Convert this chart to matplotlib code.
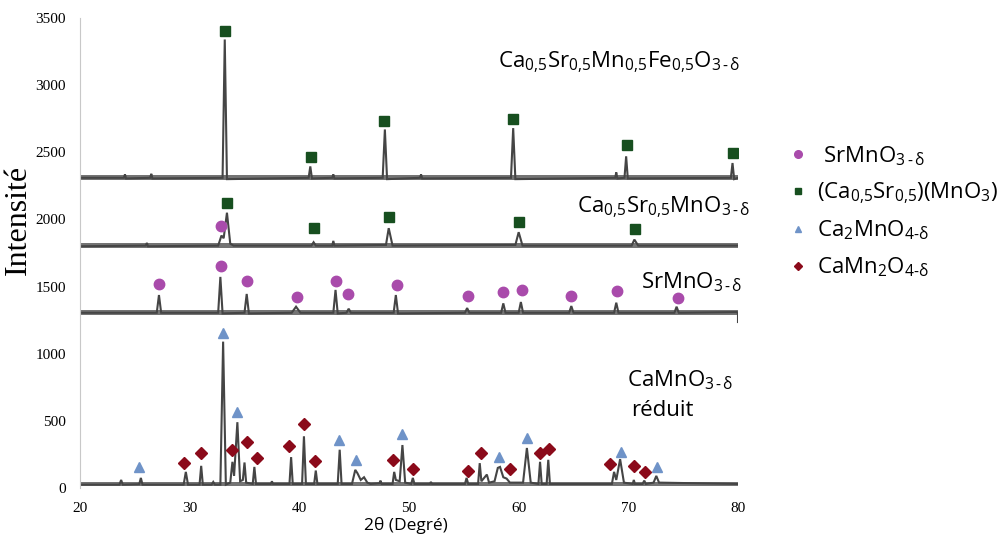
import matplotlib
matplotlib.use('Agg')
import matplotlib.pyplot as plt
from matplotlib.lines import Line2D

plt.rcParams['font.family'] = 'Liberation Serif'
plt.rcParams['mathtext.fontset'] = 'custom'
plt.rcParams['mathtext.rm'] = 'Open Sans'
plt.rcParams['mathtext.it'] = 'Open Sans:italic'
plt.rcParams['mathtext.bf'] = 'Open Sans:bold'

# Diffractogrammes (sommets)
fe_x = [20, 24.0, 24.1, 24.2, 26.4, 26.5, 26.6, 33.0, 33.2, 33.4, 40.85, 41.0, 41.15,
        43.0, 43.1, 43.2, 47.6, 47.8, 48.0, 51.0, 51.1, 51.2, 59.3, 59.5, 59.7,
        68.8, 68.9, 69.0, 69.65, 69.8, 69.95, 79.35, 79.5, 79.65, 80]
fe_y = [2310, 2310, 2335, 2305, 2310, 2340, 2305, 2310, 3340, 2300, 2310, 2395, 2305,
        2310, 2335, 2305, 2310, 2670, 2300, 2310, 2335, 2305, 2310, 2680, 2300,
        2310, 2350, 2305, 2310, 2470, 2305, 2310, 2420, 2300, 2310]

casr_x = [20, 26.0, 26.1, 26.2, 32.6, 32.9, 33.1, 33.4, 33.7, 34.0, 41.1, 41.3, 41.5,
          43.0, 43.1, 43.2, 47.9, 48.15, 48.5, 59.7, 60.0, 60.35, 70.3, 70.55, 70.9, 80]
casr_y = [1800, 1805, 1825, 1800, 1805, 1880, 1860, 2050, 1820, 1805, 1805, 1830, 1805,
          1805, 1840, 1805, 1810, 1935, 1805, 1810, 1905, 1805, 1805, 1850, 1805, 1805]

sr_x = [20, 27.0, 27.2, 27.4, 32.6, 32.8, 33.0, 35.0, 35.2, 35.4, 39.3, 39.7, 40.1,
        43.1, 43.3, 43.5, 44.3, 44.5, 44.7, 48.6, 48.8, 49.0, 55.1, 55.3, 55.5,
        58.4, 58.6, 58.8, 60.0, 60.2, 60.4, 64.6, 64.8, 65.0, 68.7, 68.9, 69.1,
        74.2, 74.4, 74.6, 79.9, 80, 80]
sr_y = [1305, 1305, 1437, 1305, 1305, 1572, 1300, 1305, 1445, 1300, 1305, 1350, 1305,
        1305, 1475, 1300, 1305, 1335, 1305, 1305, 1437, 1300, 1305, 1340, 1305,
        1305, 1375, 1305, 1305, 1385, 1305, 1305, 1355, 1305, 1305, 1380, 1305,
        1305, 1350, 1305, 1310, 1300, 1236]

ca_x = [20, 23.6, 23.75, 23.9, 25.4, 25.55, 25.7, 29.45, 29.65, 29.85, 30.9, 31.05, 31.2,
        32.0, 32.15, 32.3, 32.8, 33.05, 33.3, 33.7, 33.9, 34.05, 34.35, 34.6, 34.85,
        35.0, 35.15, 35.75, 35.9, 36.05, 37.4, 37.5, 37.6, 39.1, 39.25, 39.4,
        40.25, 40.42, 40.6, 41.35, 41.5, 41.65, 43.5, 43.68, 43.85,
        44.8, 45.1, 45.3, 45.6, 45.9, 46.2, 46.5, 47.3, 47.4, 47.5,
        48.5, 48.65, 48.8, 49.15, 49.4, 49.65, 50.2, 50.35, 50.5, 51.9, 52.0, 52.1,
        55.1, 55.25, 55.4, 56.3, 56.45, 56.6, 57.1, 57.3, 57.8, 58.1, 58.3, 58.6,
        58.9, 59.2, 60.4, 60.75, 61.1, 61.8, 61.95, 62.1, 62.55, 62.7, 62.85,
        68.5, 68.7, 68.9, 69.25, 69.6, 70.4, 70.5, 70.6, 71.3, 71.45, 71.6,
        72.3, 72.55, 72.8, 80]
ca_y = [25, 25, 60, 25, 28, 75, 25, 25, 120, 25, 25, 165, 25,
        25, 45, 25, 25, 1090, 25, 40, 195, 90, 490, 50, 60,
        190, 40, 30, 157, 30, 30, 50, 30, 30, 230, 30,
        30, 385, 30, 30, 130, 30, 30, 285, 30,
        30, 135, 110, 60, 80, 40, 30, 35, 55, 30,
        30, 120, 60, 50, 320, 40, 30, 75, 30, 30, 45, 30,
        30, 75, 30, 30, 185, 50, 100, 40, 50, 150, 157, 80,
        70, 40, 40, 298, 40, 30, 195, 30, 30, 210, 30,
        30, 120, 60, 215, 40, 30, 60, 30, 30, 55, 30,
        40, 90, 40, 30]

# bande de bruit de fond (bas, haut) de chaque diffractogramme
noise_lo = [2292, 1788, 1292, 12]
noise_hi = [2330, 1822, 1322, 42]

# Pics indexés
sq_x = [33.2, 41.05, 47.75, 59.5, 69.85, 79.55, 33.4, 41.3, 48.2, 60.0, 70.6]
sq_y = [3403, 2465, 2733, 2748, 2554, 2494, 2122, 1935, 2020, 1978, 1928]
ci_x = [32.9, 27.2, 32.85, 35.2, 39.8, 43.3, 44.4, 48.9, 55.4, 58.6, 60.3, 64.8, 69.0, 74.5]
ci_y = [1950, 1520, 1653, 1542, 1422, 1542, 1445, 1512, 1430, 1460, 1474, 1430, 1467, 1415]
tr_x = [25.4, 33.05, 34.35, 43.65, 45.2, 49.4, 58.2, 60.75, 69.3, 72.6]
tr_y = [157, 1155, 565, 357, 208, 402, 230, 372, 268, 157]
di_x = [29.5, 31.0, 33.9, 35.2, 36.1, 39.1, 40.4, 41.45, 48.5, 50.4, 55.35, 56.6, 59.2,
        61.9, 62.8, 68.3, 70.5, 71.55]
di_y = [185, 260, 283, 343, 223, 313, 477, 200, 208, 142, 127, 260, 140,
        260, 290, 178, 163, 120]

C_CI = '#A94BAB'
C_SQ = '#174F1F'
C_TR = '#6F93C8'
C_DI = '#8B0A1A'
C_LINE = '#454545'

fig = plt.figure(figsize=(10.01, 5.41), dpi=100)
ax = fig.add_axes([80/1001, 1-488/541, 658/1001, 470/541])

traces = [(fe_x, fe_y), (casr_x, casr_y), (sr_x, sr_y), (ca_x, ca_y)]
for (xs, ys), lo, hi in zip(traces, noise_lo, noise_hi):
    ax.fill_between([20, 80], [lo, lo], [hi, hi], color=C_LINE, alpha=0.75, lw=0)
    ax.plot(xs, ys, color=C_LINE, lw=1.5, solid_joinstyle='miter')

ax.plot(sq_x, sq_y, 's', color=C_SQ, ms=7, ls='none')
ax.plot(ci_x, ci_y, 'o', color=C_CI, ms=7.5, ls='none')
ax.plot(tr_x, tr_y, '^', color=C_TR, ms=7, ls='none')
ax.plot(di_x, di_y, 'D', color=C_DI, ms=6.5, ls='none')

ax.set_xlim(20, 80)
ax.set_ylim(0, 3500)
ax.set_xticks([20, 30, 40, 50, 60, 70, 80])
ax.set_yticks([0, 500, 1000, 1500, 2000, 2500, 3000, 3500])
for s in ['top', 'right', 'bottom']:
    ax.spines[s].set_visible(False)
ax.spines['left'].set_color('#C8C8C8')
ax.tick_params(length=0, labelsize=11, pad=10)

ax.set_ylabel('Intensité', fontsize=23)
ax.yaxis.set_label_coords(-0.072, 0.57)
ax.set_xlabel('2θ (Degré)', family='Open Sans', fontsize=12.5)
ax.xaxis.set_label_coords(0.495, -0.062)

sub = r'3\,\text{-}\,δ'
tk = dict(fontsize=16, va='center', ha='left')
ax.text(58.1, 3172, r'$\mathrm{Ca_{0{,}5}Sr_{0{,}5}Mn_{0{,}5}Fe_{0{,}5}O_{%s}}$' % sub, **tk)
ax.text(65.3, 2092, r'$\mathrm{Ca_{0{,}5}Sr_{0{,}5}MnO_{%s}}$' % sub, **tk)
ax.text(71.2, 1534, r'$\mathrm{SrMnO_{%s}}$' % sub, **tk)
ax.text(69.9, 804, r'$\mathrm{CaMnO_{%s}}$' % sub, **tk)
ax.text(70.3, 580, 'réduit', family='Open Sans', **tk)

handles = [
    Line2D([], [], marker='o', color=C_CI, ls='none', ms=5.5),
    Line2D([], [], marker='s', color=C_SQ, ls='none', ms=5),
    Line2D([], [], marker='^', color=C_TR, ls='none', ms=5),
    Line2D([], [], marker='D', color=C_DI, ls='none', ms=4.5),
]
labels = [r'$\ \mathrm{SrMnO_{%s}}$' % sub,
          r'$\mathrm{(Ca_{0{,}5}Sr_{0{,}5})(MnO_3)}$',
          r'$\mathrm{Ca_2MnO_{4\text{-}δ}}$',
          r'$\mathrm{CaMn_2O_{4\text{-}δ}}$']
fig.legend(handles, labels, loc='upper left', bbox_to_anchor=(787/1001, 1-144/541),
           frameon=False, fontsize=16, handlelength=0.95, handletextpad=0.42,
           labelspacing=0.58, borderpad=0, borderaxespad=0)

plt.savefig('out.png', dpi=100)
plt.close()
